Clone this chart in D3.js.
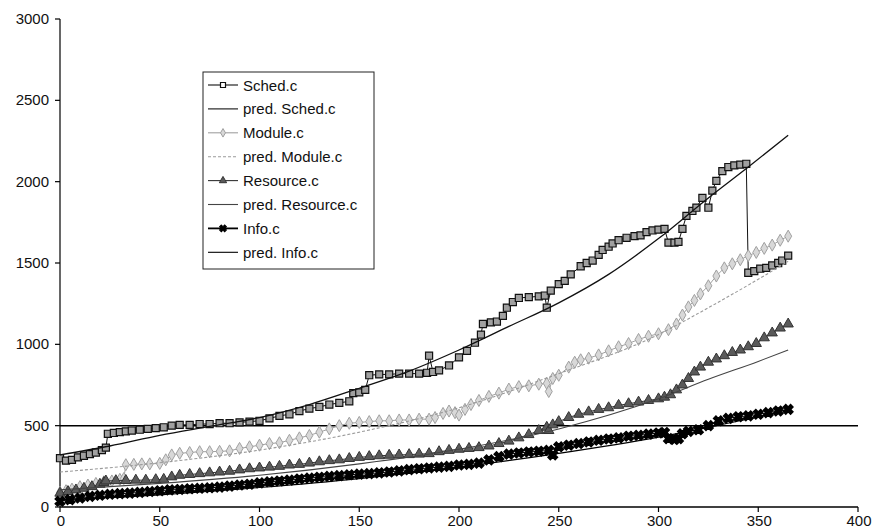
<!DOCTYPE html>
<html>
<head>
<meta charset="utf-8">
<script src="https://cdn.jsdelivr.net/npm/d3@7"></script>
<style>
  body { margin: 0; background: #fff; }
  svg { display: block; font-family: "Liberation Sans", Arial, Helvetica, sans-serif; }
</style>
</head>
<body>
<div id="chart"></div>
<script>
// [day, value] pairs
const sched = [[0,300],[3,285],[6,290],[9,305],[12,315],[15,325],[18,335],[21,350],[23,365],[24,450],[27,455],[30,460],[33,465],[36,470],[40,475],[44,480],[48,485],[52,490],[56,500],[60,505],[65,505],[70,510],[75,510],[80,515],[85,515],[90,520],[95,525],[100,530],[105,545],[110,560],[115,570],[120,590],[125,605],[130,615],[135,630],[140,640],[145,650],[147,700],[150,705],[153,720],[155,810],[160,815],[165,815],[170,820],[175,820],[180,820],[184,825],[185,930],[187,830],[190,840],[195,870],[200,920],[204,960],[208,1010],[211,1060],[212,1125],[216,1135],[219,1140],[222,1175],[224,1225],[227,1260],[230,1285],[235,1290],[240,1295],[243,1300],[244,1225],[246,1330],[250,1370],[253,1390],[256,1430],[261,1480],[264,1500],[267,1515],[270,1550],[272,1580],[275,1600],[277,1620],[280,1640],[284,1655],[288,1665],[291,1670],[294,1690],[297,1700],[300,1705],[303,1710],[305,1625],[308,1625],[310,1630],[312,1710],[314,1790],[317,1820],[319,1840],[322,1900],[325,1840],[327,1945],[329,2005],[332,2065],[335,2090],[338,2100],[341,2105],[344,2110],[345,1440],[348,1450],[351,1465],[354,1470],[357,1485],[360,1500],[362,1515],[365,1545]];
const predSched = [[0,320],[25,375],[50,440],[75,495],[100,550],[125,630],[150,730],[175,835],[200,965],[225,1110],[250,1255],[275,1430],[300,1650],[325,1900],[345,2090],[365,2285]];

const modul = [[0,90],[3,100],[6,110],[10,125],[14,135],[18,145],[22,155],[26,160],[30,170],[32,175],[33,260],[37,262],[41,265],[45,265],[50,268],[53,290],[56,320],[60,330],[65,335],[70,340],[75,340],[80,342],[85,345],[90,360],[95,370],[100,380],[105,390],[110,395],[115,410],[120,425],[125,440],[130,460],[135,480],[140,500],[145,515],[150,520],[155,525],[160,530],[165,530],[170,535],[175,535],[180,540],[185,540],[188,550],[192,575],[195,590],[198,580],[200,565],[203,600],[206,630],[210,655],[215,680],[220,700],[225,725],[230,740],[235,745],[240,755],[244,760],[245,710],[247,790],[250,810],[255,860],[258,890],[261,905],[265,915],[270,935],[275,960],[280,985],[285,1005],[290,1030],[295,1050],[300,1065],[305,1090],[309,1125],[312,1180],[315,1230],[318,1270],[321,1310],[325,1360],[329,1420],[333,1470],[337,1495],[341,1520],[345,1545],[349,1565],[353,1590],[357,1610],[361,1640],[365,1665]];
const predModul = [[0,215],[50,272],[100,350],[150,460],[200,610],[250,820],[300,1060],[325,1225],[350,1400],[365,1510]];

const resource = [[0,85],[4,95],[8,105],[12,115],[16,125],[20,140],[22,150],[23,160],[28,162],[33,163],[38,165],[43,165],[48,168],[52,170],[56,185],[60,195],[65,200],[70,205],[75,210],[80,215],[85,220],[90,228],[95,235],[100,240],[105,245],[110,250],[115,258],[120,262],[125,270],[130,278],[135,285],[140,290],[145,298],[150,305],[155,310],[160,315],[165,318],[170,320],[175,322],[180,325],[185,328],[190,340],[195,348],[200,355],[205,360],[210,365],[215,375],[220,390],[225,405],[230,425],[235,445],[240,470],[244,490],[245,470],[247,505],[250,525],[255,550],[260,570],[265,585],[270,600],[275,610],[280,625],[285,635],[290,645],[295,655],[300,665],[303,675],[306,690],[309,720],[312,750],[315,790],[318,830],[321,860],[325,890],[329,910],[333,930],[337,950],[341,965],[345,985],[349,1005],[353,1040],[357,1070],[361,1100],[365,1125]];
const predResource = [[0,105],[50,145],[100,195],[150,265],[200,355],[250,480],[300,665],[325,785],[350,895],[365,965]];

const info = [[0,35],[5,45],[10,55],[15,65],[20,72],[25,78],[30,82],[35,85],[40,90],[45,95],[50,100],[55,105],[60,108],[65,112],[70,115],[75,118],[80,122],[85,128],[90,135],[95,140],[100,148],[105,155],[110,160],[115,165],[120,172],[125,178],[130,183],[135,188],[140,193],[145,198],[150,202],[155,205],[160,210],[165,215],[170,222],[175,230],[180,235],[185,240],[190,245],[195,250],[200,258],[205,262],[210,270],[215,290],[220,310],[225,325],[230,332],[235,338],[240,343],[245,348],[247,320],[250,370],[255,380],[260,390],[265,400],[270,410],[275,418],[280,425],[285,435],[290,440],[295,448],[300,455],[303,458],[305,420],[308,415],[310,420],[312,450],[315,465],[320,475],[325,500],[330,530],[335,545],[340,555],[345,560],[350,570],[355,580],[360,590],[365,600]];
const predInfo = [[0,45],[50,75],[100,120],[150,175],[200,245],[250,330],[300,430],[325,490],[350,555],[365,600]];

const xTicks = [0, 50, 100, 150, 200, 250, 300, 350, 400];
const yTicks = [0, 500, 1000, 1500, 2000, 2500, 3000];
const refLine = 500;

const legendNames = ["Sched.c", "pred. Sched.c", "Module.c", "pred. Module.c",
  "Resource.c", "pred. Resource.c", "Info.c", "pred. Info.c"];

const width = 873, height = 529;
const margin = { top: 19, right: 15, bottom: 22, left: 60 };

const svg = d3.select("#chart").append("svg")
  .attr("width", width)
  .attr("height", height);

const x = d3.scaleLinear().domain([0, 400]).range([margin.left, width - margin.right]);
const y = d3.scaleLinear().domain([0, 3000]).range([height - margin.bottom, margin.top]);

// styles per series
const styles = [
  { data: sched, stroke: "#111", fill: "#a0a0a0", sym: d3.symbolSquare, size: 50, rot: 0, sw: 1.2 },
  { data: modul, stroke: "#a0a0a0", fill: "#d8d8d8", sym: d3.symbolDiamond, size: 42, rot: 0, sw: 1 },
  { data: resource, stroke: "#333", fill: "#5a5a5a", sym: d3.symbolTriangle, size: 46, rot: 0, sw: 1 },
  { data: info, stroke: "#000", fill: "#000", sym: d3.symbolCross, size: 58, rot: 45, sw: 1.4 }
];
const predStyles = [
  { data: predSched, stroke: "#111", sw: 1.3, dash: null },
  { data: predModul, stroke: "#9a9a9a", sw: 1.1, dash: "3,2" },
  { data: predResource, stroke: "#444", sw: 1.1, dash: null },
  { data: predInfo, stroke: "#000", sw: 1.2, dash: null }
];

// axes
const axisG = svg.append("g").attr("stroke", "#000");
axisG.append("line")
  .attr("x1", x(0)).attr("x2", x(0))
  .attr("y1", y(3000)).attr("y2", y(0)).attr("stroke-width", 1.2);
axisG.append("line")
  .attr("x1", x(0)).attr("x2", x(400))
  .attr("y1", y(0)).attr("y2", y(0)).attr("stroke-width", 1.5);
axisG.selectAll(".yt").data(yTicks).join("line")
  .attr("x1", x(0) - 5).attr("x2", x(0))
  .attr("y1", d => y(d)).attr("y2", d => y(d)).attr("stroke-width", 1.2);
axisG.selectAll(".xt").data(xTicks).join("line")
  .attr("x1", d => x(d)).attr("x2", d => x(d))
  .attr("y1", y(0)).attr("y2", y(0) + 5).attr("stroke-width", 1.2);

svg.append("g").selectAll("text").data(yTicks).join("text")
  .attr("x", x(0) - 11).attr("y", d => y(d) + 5)
  .attr("text-anchor", "end").attr("font-size", 15).attr("fill", "#111")
  .text(d => d);
svg.append("g").selectAll("text").data(xTicks).join("text")
  .attr("x", d => x(d) + 1).attr("y", height - 3)
  .attr("text-anchor", "middle").attr("font-size", 15).attr("fill", "#111")
  .text(d => d);

// horizontal line at 500
svg.append("line")
  .attr("x1", x(0)).attr("x2", x(400))
  .attr("y1", y(refLine)).attr("y2", y(refLine))
  .attr("stroke", "#000").attr("stroke-width", 1.5);

const line = d3.line().x(d => x(d[0])).y(d => y(d[1]));
const smooth = d3.line().x(d => x(d[0])).y(d => y(d[1])).curve(d3.curveMonotoneX);

styles.forEach(s => {
  svg.append("path").datum(s.data)
    .attr("d", line).attr("fill", "none")
    .attr("stroke", s.stroke).attr("stroke-width", 1);
  svg.append("g").selectAll("path").data(s.data).join("path")
    .attr("transform", d => `translate(${x(d[0])},${y(d[1])}) rotate(${s.rot})`)
    .attr("d", d3.symbol(s.sym, s.size))
    .attr("fill", s.fill).attr("stroke", s.stroke).attr("stroke-width", s.sw);
});

predStyles.forEach(p => {
  svg.append("path").datum(p.data)
    .attr("d", smooth).attr("fill", "none")
    .attr("stroke", p.stroke).attr("stroke-width", p.sw)
    .attr("stroke-dasharray", p.dash);
});

// legend
const lg = svg.append("g").attr("transform", "translate(203,72)");
lg.append("rect").attr("width", 171).attr("height", 197)
  .attr("fill", "#fff").attr("stroke", "#222").attr("stroke-width", 1);
const rows = lg.selectAll("g").data(legendNames).join("g")
  .attr("transform", (d, i) => `translate(0,${13 + i * 23.9})`);
rows.append("line")
  .attr("x1", 5).attr("x2", 35)
  .attr("stroke", (d, i) => i % 2 === 0 ? styles[i / 2].stroke : predStyles[(i - 1) / 2].stroke)
  .attr("stroke-width", (d, i) => i === 6 ? 1.8 : 1.1)
  .attr("stroke-dasharray", (d, i) => i === 3 ? "3,2" : null);
rows.filter((d, i) => i % 2 === 0).append("path")
  .attr("transform", (d, i) => `translate(20,0) rotate(${styles[i].rot})`)
  .attr("d", (d, i) => d3.symbol(styles[i].sym, styles[i].size * 0.5)())
  .attr("fill", (d, i) => i === 0 ? "#fff" : styles[i].fill)
  .attr("stroke", (d, i) => styles[i].stroke)
  .attr("stroke-width", (d, i) => i === 3 ? 1 : styles[i].sw);
rows.append("text")
  .attr("x", 40).attr("y", 5.5)
  .attr("font-size", 15).attr("fill", "#111")
  .text(d => d);
</script>
</body>
</html>
